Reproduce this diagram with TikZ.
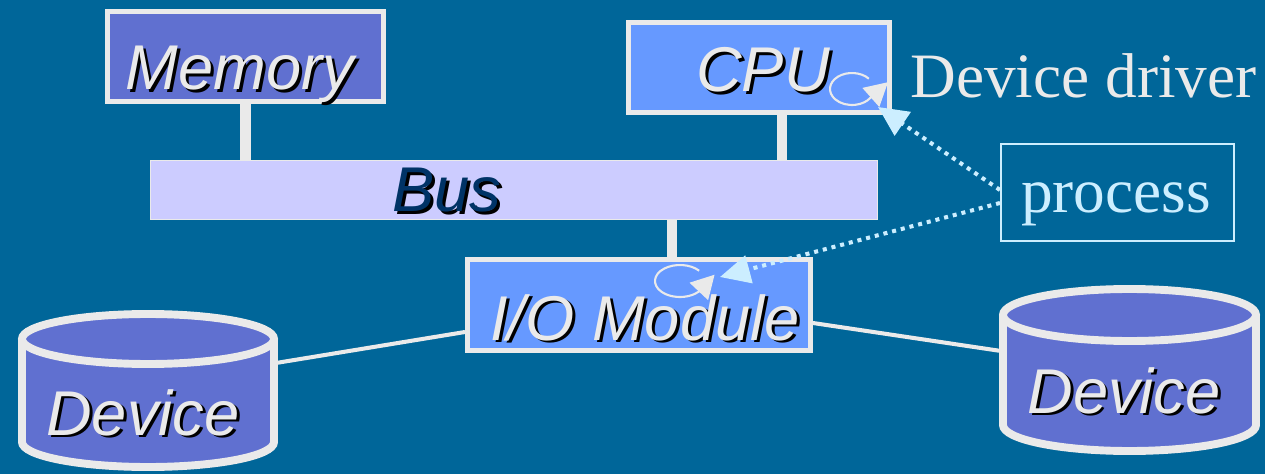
\documentclass[tikz,border=0pt]{standalone}
\usepackage{fontspec}
\setmainfont{Liberation Serif}
\setsansfont{Liberation Sans}
\usepackage{tikz}
\usetikzlibrary{arrows.meta}
\usetikzlibrary{positioning}
\usetikzlibrary{calc}
\definecolor{slide}{HTML}{006699}
\definecolor{rim}{HTML}{EAEAEA}
\definecolor{memblue}{HTML}{6070D0}
\definecolor{cpublue}{HTML}{6699FF}
\definecolor{buslilac}{HTML}{CCCCFF}
\definecolor{navy}{HTML}{003366}
\definecolor{ice}{HTML}{CCEEFF}
\newcommand{\dropshadow}[1]{\makebox[0pt][l]{\hspace{1.7pt}\raisebox{-1.7pt}{\color{black}#1}}#1}

\begin{document}
\begin{tikzpicture}[
            x = 0.02cm, y = 0.02cm, % one unit per pixel
            semithick % line style
            ]

        \tikzstyle{box}=[
            draw = rim,
            line width = 2.85pt
        ]
        \tikzstyle{boxtag}=[
            text = rim,
            font = \sffamily\itshape\fontsize{36}{40}\selectfont,
            anchor = base,
            inner sep = 0pt
        ]
        \tikzstyle{serif}=[
            font = \rmfamily\fontsize{36}{40}\selectfont,
            anchor = base,
            inner sep = 0pt
        ]
        \tikzstyle{link}=[draw = rim, line width = 5.7pt]
        \tikzstyle{wire}=[draw = rim, line width = 2.3pt]
        \tikzstyle{hint}=[draw = ice, line width = 2.3pt, dash pattern = on 2.3pt off 2.8pt,
            -{Triangle[length = 0.6cm, width = 0.56cm]}]
        \tikzstyle{spin}=[draw = rim, line width = 1.2pt,
            -{Triangle[length = 0.46cm, width = 0.5cm]}]
        \tikzstyle{drum}=[draw = rim, fill = memblue, line width = 4.5pt]

    % slide
    \path[use as bounding box] (0,0) rectangle (1265,474);
    \fill[slide] (0,0) rectangle (1265,474);

	% boxes
	\node[box, fill = memblue, minimum width = 5.52cm, minimum height = 1.8cm] (mem) at (245.5,417.5) {};
	\node[box, fill = cpublue, minimum width = 5.22cm, minimum height = 1.8cm] (cpu) at (759,406.5) {};
	\node[draw = rim, thin, fill = buslilac, minimum width = 14.54cm, minimum height = 1.18cm] (bus) at (514,284) {};
	\node[box, fill = cpublue, minimum width = 6.86cm, minimum height = 1.82cm] (io) at (639,169) {};
	\node[draw = ice, line width = 1.2pt, minimum width = 4.66cm, minimum height = 1.94cm] (proc) at (1117.5,281.5) {};

	% bus links
	\draw[link] (mem.south) -- (mem.south |- bus.north);
	\draw[link] ([xshift = 0.46cm]cpu.south) -- ([xshift = 0.46cm]cpu.south |- bus.north);
	\draw[link] ([xshift = 0.66cm]io.north) -- ([xshift = 0.66cm]io.north |- bus.south);

	% devices
	\draw[drum] (22,135) -- (22,32) arc[start angle = 180, end angle = 360, x radius = 126, y radius = 25] -- (274,135);
	\draw[drum] (148,135) ellipse [x radius = 126, y radius = 25];
	\draw[drum] (1003,159) -- (1003,49) arc[start angle = 180, end angle = 360, x radius = 126.5, y radius = 26] -- (1256,159);
	\draw[drum] (1129.5,159) ellipse [x radius = 126.5, y radius = 26];
	\coordinate (devLport) at (276,111);
	\coordinate (devRport) at (1001,123);
	\draw[wire] ([yshift = -0.54cm]io.west) -- (devLport);
	\draw[wire] ([yshift = -0.36cm]io.east) -- (devRport);

	% texts
	\node[boxtag] (memT) at (240,384) {\dropshadow{Memory}};
	\node[boxtag] (cpuT) at (763,382) {\dropshadow{CPU}};
	\node[boxtag, text = navy] (busT) at (447,262) {\dropshadow{Bus}};
	\node[boxtag] (ioT) at (645,134) {\dropshadow{I/O Module}};
	\node[boxtag] (devLT) at (143,39) {\dropshadow{Device}};
	\node[boxtag] (devRT) at (1124,61) {\dropshadow{Device}};
	\node[serif, text = rim, anchor = base west] (drv) at (910,376) {Device driver};
	\node[serif, text = ice] (procT) at (1116,261) {process};

	% driver loops
	\coordinate (cpuSpin) at (852,385);
	\draw[spin] ($(cpuSpin)+(40:22 and 16)$) arc[start angle = 40, end angle = 325, x radius = 22, y radius = 16] -- ++(18,16);
	\coordinate (ioSpin) at (680,193);
	\draw[spin] ($(ioSpin)+(40:25 and 16)$) arc[start angle = 40, end angle = 318, x radius = 25, y radius = 16] -- ++(16,17);

	% process hints
	\coordinate (cpuHit) at (878,367);
	\coordinate (ioHit) at (720,197);
	\draw[hint] ([yshift = 0.05cm]proc.west) -- (cpuHit);
	\draw[hint] ([yshift = -0.21cm]proc.west) -- (ioHit);

\end{tikzpicture}
\end{document}
